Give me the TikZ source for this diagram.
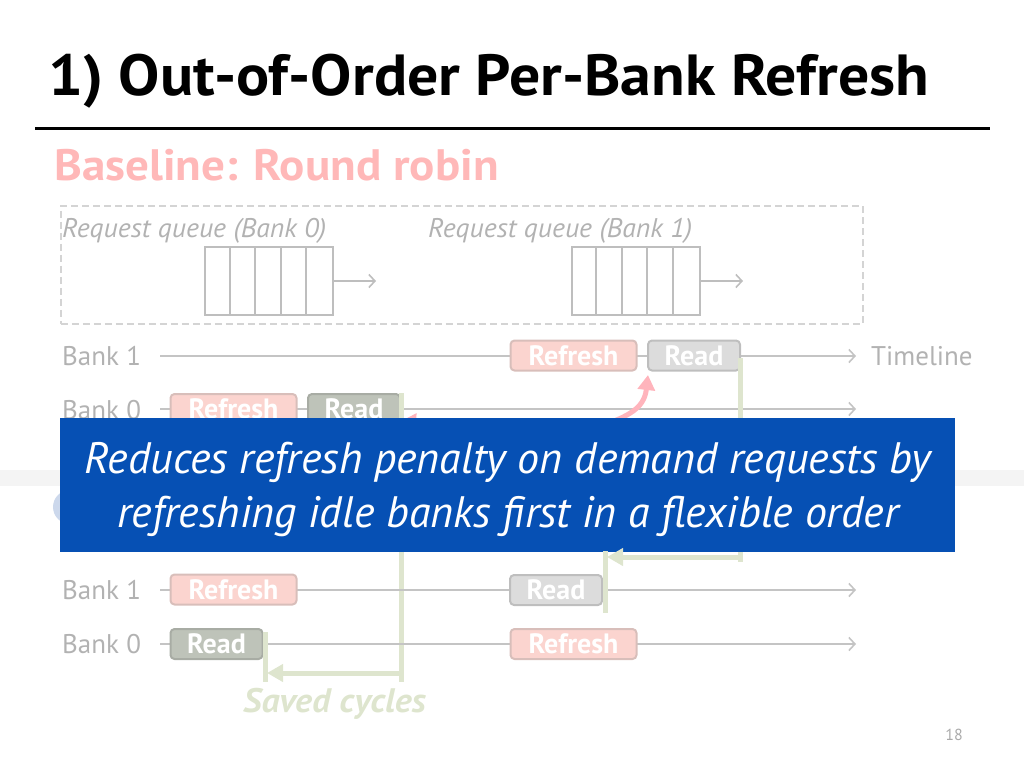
\documentclass[tikz,border=0pt]{standalone}
\usepackage{fontspec}
\setmainfont{PT Sans}
\usetikzlibrary{arrows.meta}
\definecolor{reffill}{RGB}{251,212,207}
\definecolor{refedge}{RGB}{216,190,186}
\definecolor{rdfill}{RGB}{220,220,220}
\definecolor{rdedge}{RGB}{190,190,190}
\definecolor{dkfill}{RGB}{190,195,185}
\definecolor{dkedge}{RGB}{168,172,164}
\definecolor{tlgray}{RGB}{196,196,196}
\definecolor{lblgray}{RGB}{178,178,178}
\definecolor{qgray}{RGB}{190,190,190}
\definecolor{dashgray}{RGB}{212,212,212}
\definecolor{basepink}{RGB}{255,184,184}
\definecolor{svgreen}{RGB}{222,229,206}
\definecolor{pinkarr}{RGB}{255,180,188}
\definecolor{bandgray}{RGB}{244,244,244}
\definecolor{lightblue}{RGB}{204,216,236}
\definecolor{bluebox}{RGB}{6,80,180}
\definecolor{pagegray}{RGB}{170,170,170}
\begin{document}
\begin{tikzpicture}[x=1pt,y=-1pt,
  refbox/.style={draw=refedge, fill=reffill, rounded corners=4pt, line width=2pt,
    minimum width=126pt, minimum height=30pt, inner sep=0pt, text=white,
    font=\bfseries\fontsize{28}{28}\selectfont},
  rdbox/.style={refbox, draw=rdedge, fill=rdfill, minimum width=92pt},
  rddark/.style={refbox, draw=dkedge, fill=dkfill, minimum width=92pt},
  tl/.style={draw=tlgray, line width=1.6pt, -{Straight Barb[length=6pt,width=13pt]}},
  qarrow/.style={draw=qgray, line width=1.6pt, -{Straight Barb[length=6pt,width=13pt]}},
  lbl/.style={text=lblgray, font=\fontsize{27}{27}\selectfont, anchor=base west, inner sep=0pt},
  qlbl/.style={text=lblgray, font=\itshape\fontsize{27}{27}\selectfont\addfontfeatures{FakeStretch=1.03}, anchor=base west, inner sep=0pt},
  sv/.style={draw=svgreen, line width=5pt},
  svarrow/.style={draw=svgreen, line width=5pt, -{Triangle[length=16pt,width=17pt]}},
  pinkarrow/.style={draw=pinkarr, line width=5pt, -{Triangle[length=15pt,width=17pt]}},
  qcell/.style={draw=qgray, line width=2pt, minimum width=128pt, minimum height=68pt, inner sep=0pt},
  msgtext/.style={text=white, font=\itshape\fontsize{44}{44}\selectfont, anchor=base, inner sep=0pt}
]
\useasboundingbox (0,0) rectangle (1024,768);

% title
\node[anchor=base west, inner sep=0pt, font=\bfseries\fontsize{58}{58}\selectfont\addfontfeatures{FakeStretch=1.065}] (title) at (48,95) {1) Out-of-Order Per-Bank Refresh};
\coordinate (rl) at (35,128);
\coordinate (rr) at (990,128);
\draw[line width=3pt] (rl) -- (rr);

\node[anchor=base west, inner sep=0pt, text=basepink, font=\bfseries\fontsize{44}{44}\selectfont\addfontfeatures{FakeStretch=1.07}] (base) at (54,180) {Baseline: Round robin};

% request queues
\node[draw=dashgray, dash pattern=on 7pt off 4pt, line width=1.5pt, anchor=north west, minimum width=802pt, minimum height=118pt, inner sep=0pt] (qbox) at (60,205) {};
\node[qlbl] (ql0) at (62,237) {Request queue (Bank 0)};
\node[qlbl] (ql1) at (428,237) {Request queue (Bank 1)};
\node[qcell] (q0) at (269,281) {};
\node[qcell] (q1) at (635.5,281) {};
\foreach \i in {1,...,4} {
  \draw[qgray, line width=2pt] ([xshift=\i*25.6pt]q0.north west) -- ([xshift=\i*25.6pt]q0.south west);
  \draw[qgray, line width=2pt] ([xshift=\i*25.6pt]q1.north west) -- ([xshift=\i*25.6pt]q1.south west);
}
\coordinate (q0o) at (376,281);
\coordinate (q1o) at (743,281);
\draw[qarrow] (q0.east) -- (q0o);
\draw[qarrow] (q1.east) -- (q1o);

% top timelines
\coordinate (t1s) at (160,356);
\coordinate (t1e) at (856,356);
\coordinate (t0s) at (160,409);
\coordinate (t0e) at (856,409);
\draw[tl] (t1s) -- (t1e);
\draw[tl] (t0s) -- (t0e);
\node[lbl] (t1lab) at (62,365) {Bank 1};
\node[lbl] (t0lab) at (62,419) {Bank 0};
\node[lbl] (tline) at (871,365) {Timeline};
\node[refbox] (t1ref) at (573.5,355.5) {Refresh};
\node[rdbox] (t1rd) at (694,355.5) {Read};
\node[refbox] (t0ref) at (233.5,409) {Refresh};
\node[rddark] (t0rd) at (354,409) {Read};

% saved cycles brackets
\coordinate (ga1) at (401,393);
\coordinate (ga2) at (401,682);
\coordinate (gb1) at (740,358);
\coordinate (gb2) at (740,562);
\draw[sv] (ga1) -- (ga2);
\draw[sv] (gb1) -- (gb2);

% pink arrows
\coordinate (pk1s) at (588,430);
\coordinate (pk1e) at (648,375);
\draw[pinkarrow] (pk1s) .. controls (626,418) and (644,410) .. (pk1e);
\coordinate (pk2s) at (470,440);
\coordinate (pk2e) at (401,421);
\draw[pinkarrow] (pk2s) .. controls (440,424) .. (pk2e);

% faded background pieces
\fill[bandgray] (0,470) rectangle (1024,486);
\fill[lightblue] (70,507) circle (17);

% message box
\node[fill=bluebox, anchor=north west, minimum width=895pt, minimum height=134pt, inner sep=0pt] (msg) at (60,418) {};
\node[msgtext] (msg1) at (508,473) {Reduces refresh penalty on demand requests by};
\node[msgtext] (msg2) at (508,527) {refreshing idle banks first in a flexible order};

% bottom timelines
\coordinate (b1s) at (160,590);
\coordinate (b1e) at (856,590);
\coordinate (b0s) at (160,644);
\coordinate (b0e) at (856,644);
\draw[tl] (b1s) -- (b1e);
\draw[tl] (b0s) -- (b0e);
\node[lbl] (b1lab) at (62,599) {Bank 1};
\node[lbl] (b0lab) at (62,653) {Bank 0};
\node[refbox] (b1ref) at (233.5,589.5) {Refresh};
\node[rdbox] (b1rd) at (556,590) {Read};
\node[rddark] (b0rd) at (216.5,644) {Read};
\node[refbox] (b0ref) at (573.5,644) {Refresh};

% lower green brackets
\coordinate (gc1) at (605,551);
\coordinate (gc2) at (605,613);
\draw[sv] (gc1) -- (gc2);
\coordinate (gd1) at (740,557);
\coordinate (gd2) at (607,557);
\draw[svarrow] (gd1) -- (gd2);
\coordinate (ge1) at (265,632);
\coordinate (ge2) at (265,682);
\draw[sv] (ge1) -- (ge2);
\coordinate (gf1) at (401,673);
\coordinate (gf2) at (267,673);
\draw[svarrow] (gf1) -- (gf2);
\node[anchor=base west, inner sep=0pt, text=svgreen, font=\bfseries\itshape\fontsize{34}{34}\selectfont\addfontfeatures{FakeStretch=1.06}] (saved) at (243,712) {Saved cycles};

\node[anchor=base, inner sep=0pt, text=pagegray, font=\fontsize{16}{16}\selectfont] (page) at (954,740) {18};
\end{tikzpicture}
\end{document}
